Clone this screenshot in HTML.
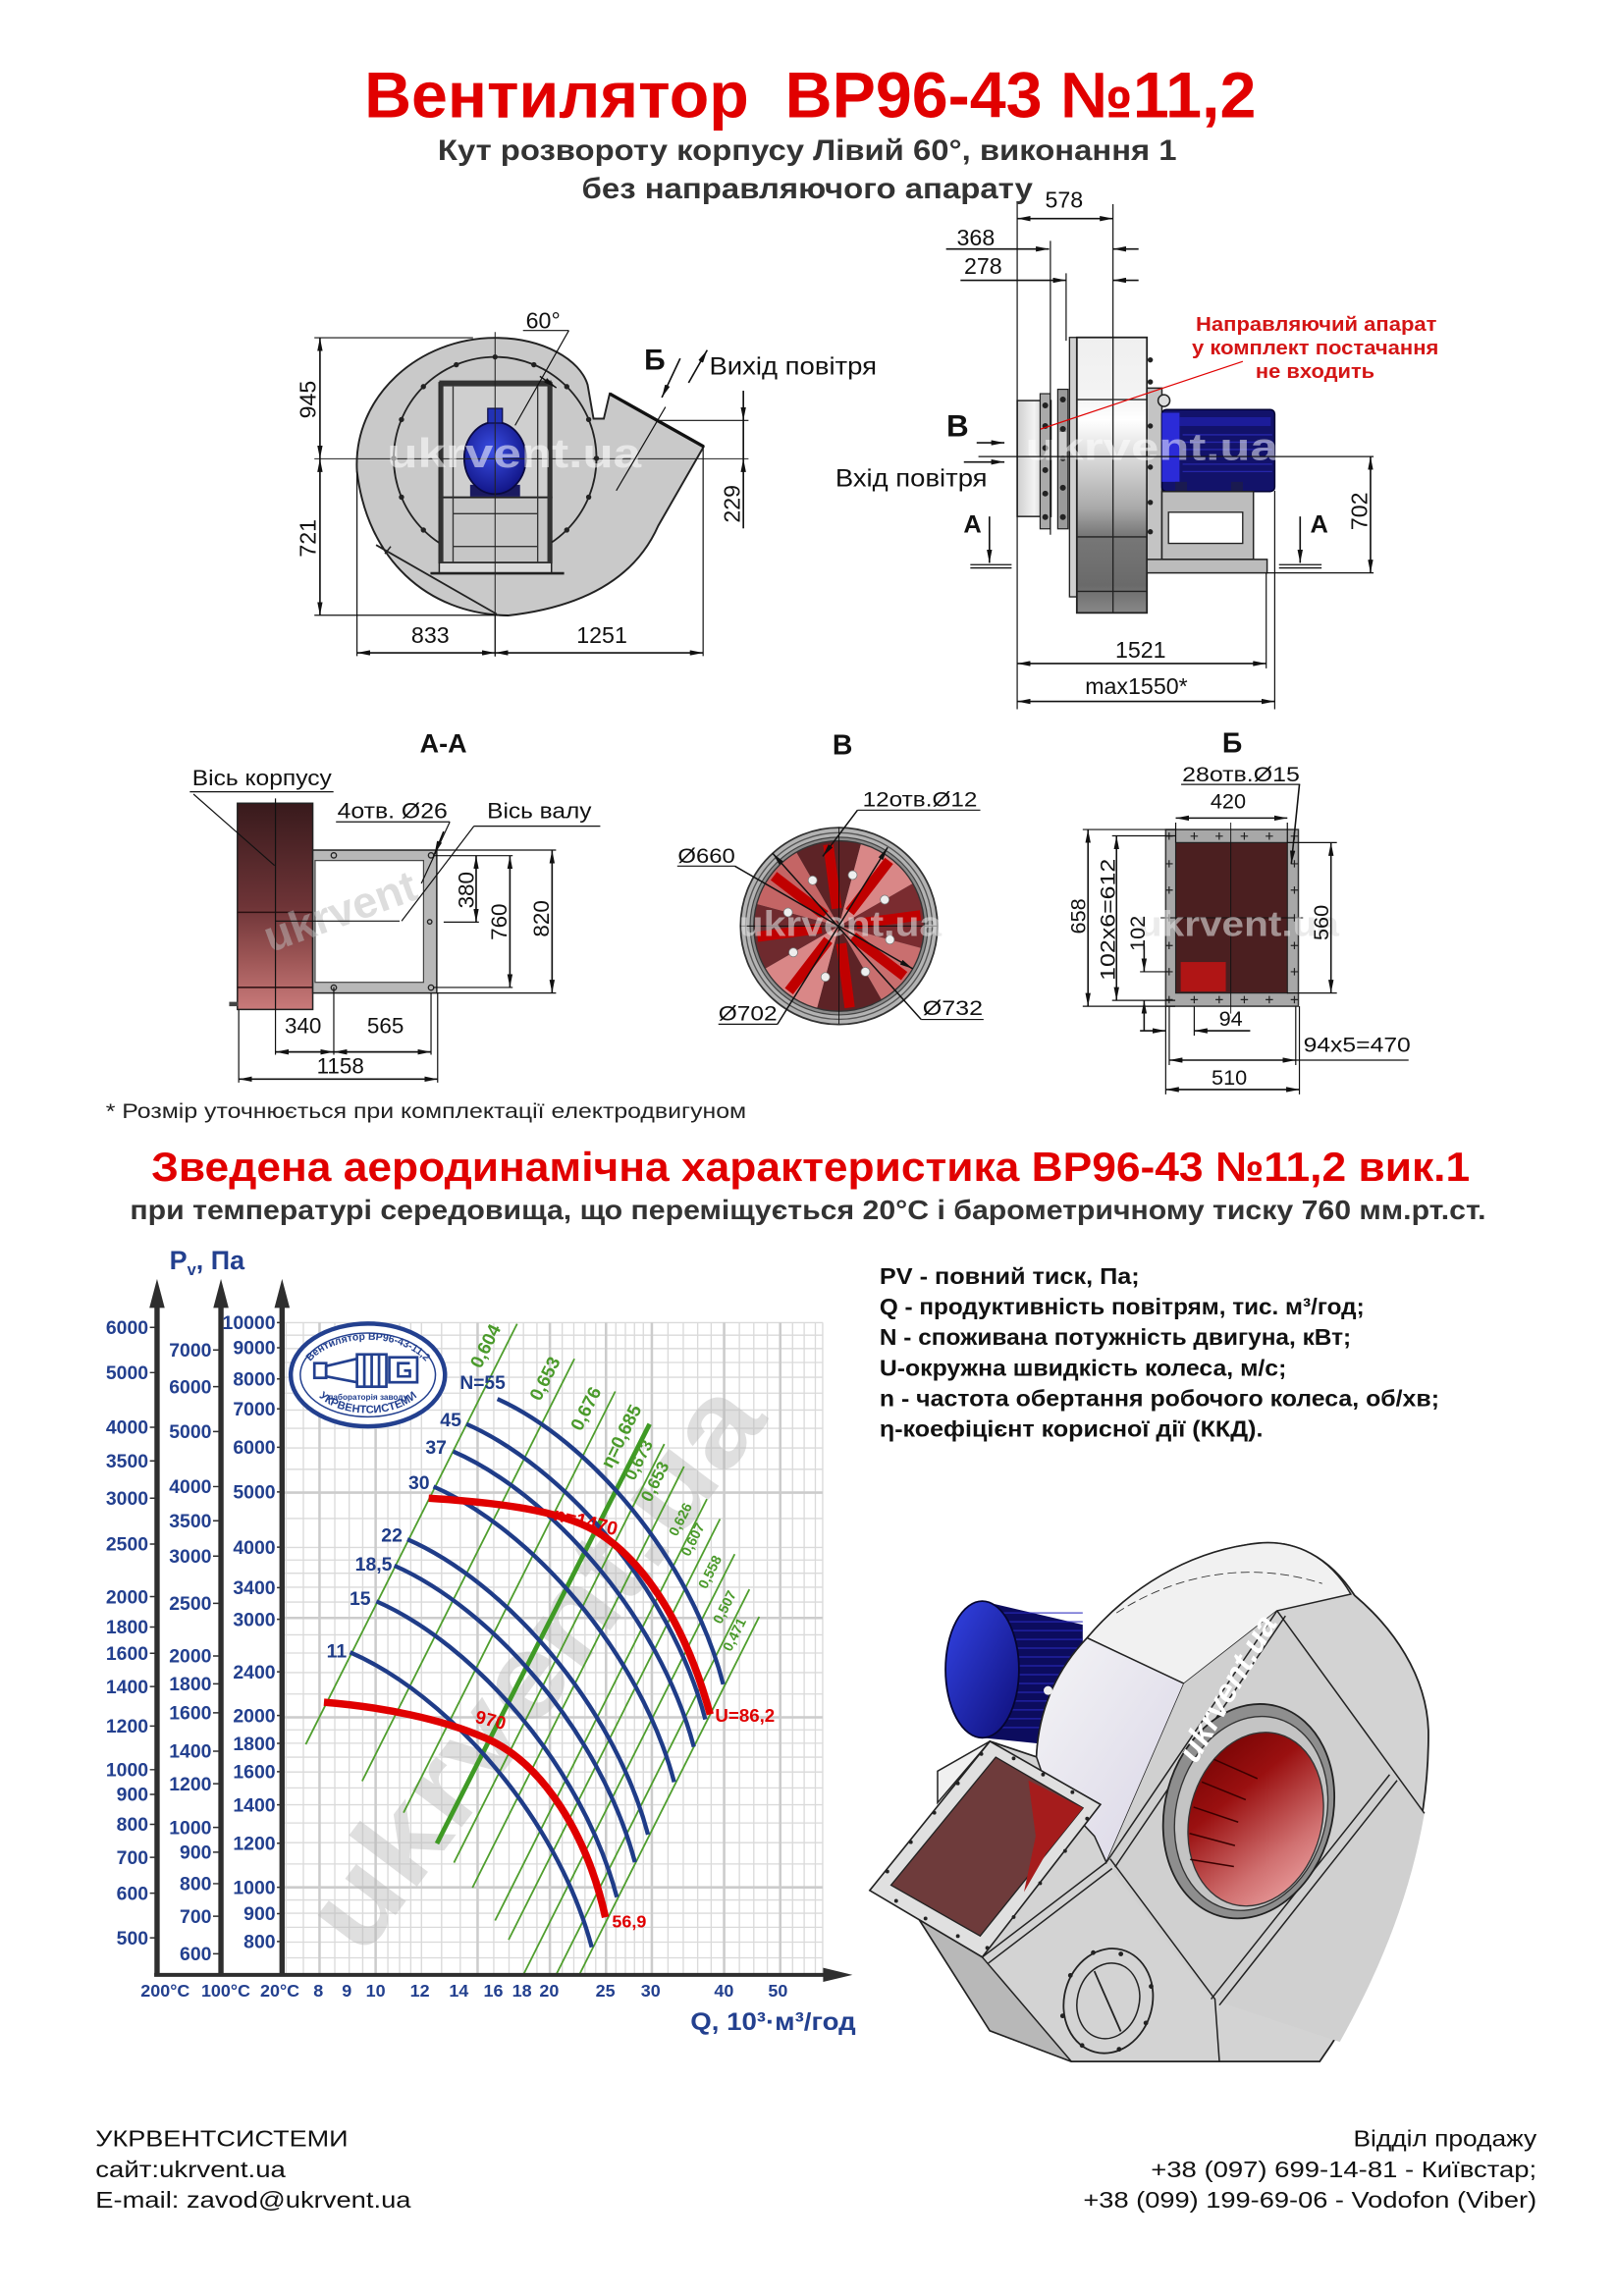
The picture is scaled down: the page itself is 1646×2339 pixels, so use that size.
<!DOCTYPE html>
<html><head><meta charset="utf-8">
<style>
html,body{margin:0;padding:0;background:#fff;}
svg{display:block;}
text{font-family:"Liberation Sans","DejaVu Sans",sans-serif;}
</style></head><body>
<svg xmlns="http://www.w3.org/2000/svg" width="1646" height="2339" viewBox="0 0 1100 1563" preserveAspectRatio="none">
<defs>
<marker id="ar" viewBox="0 0 10 4" refX="10" refY="2" markerWidth="9" markerHeight="3.6" markerUnits="userSpaceOnUse" orient="auto-start-reverse"><path d="M0,0 L10,2 L0,4 Z" fill="#111"/></marker>
<radialGradient id="motG" cx="0.45" cy="0.4" r="0.6"><stop offset="0" stop-color="#3b4fe6"/><stop offset="1" stop-color="#121688"/></radialGradient>
<linearGradient id="houseG" x1="0" y1="0" x2="0" y2="1"><stop offset="0" stop-color="#efefef"/><stop offset="0.22" stop-color="#f4f4f4"/><stop offset="0.3" stop-color="#ffffff"/><stop offset="0.62" stop-color="#a9a9a9"/><stop offset="0.72" stop-color="#777"/><stop offset="0.9" stop-color="#6a6a6a"/><stop offset="1" stop-color="#888"/></linearGradient>
<linearGradient id="inG" x1="0" y1="0" x2="1" y2="0"><stop offset="0" stop-color="#cfcfcf"/><stop offset="0.5" stop-color="#f3f3f3"/><stop offset="1" stop-color="#b5b5b5"/></linearGradient>
<linearGradient id="redG" x1="0" y1="0" x2="0" y2="1"><stop offset="0" stop-color="#381a1c"/><stop offset="0.5" stop-color="#6e3437"/><stop offset="0.75" stop-color="#9c5555"/><stop offset="1" stop-color="#c97a7a"/></linearGradient>
<linearGradient id="inletG" x1="0" y1="0" x2="1" y2="1"><stop offset="0" stop-color="#6b0000"/><stop offset="0.35" stop-color="#9a1010"/><stop offset="0.7" stop-color="#d07070"/><stop offset="1" stop-color="#f4b0b0"/></linearGradient>
<linearGradient id="mcap" x1="0" y1="0" x2="1" y2="1"><stop offset="0" stop-color="#3344e6"/><stop offset="1" stop-color="#0e0e78"/></linearGradient>
<linearGradient id="bandG" x1="0" y1="0" x2="1" y2="1"><stop offset="0" stop-color="#f4f4f6"/><stop offset="1" stop-color="#d9d5e6"/></linearGradient>
<path id="logoTop" d="M206,940 A44.5,28 0 0 1 295,940"/>
<path id="logoBot" d="M211,938 A39.5,24 0 0 0 290,938"/>
</defs>

<!-- ============ TITLES ============ -->
<text x="248" y="80" font-size="44" font-weight="bold" fill="#e10000" textLength="607" lengthAdjust="spacingAndGlyphs">Вентилятор&#160; ВР96-43 №11,2</text>
<text x="298" y="109" font-size="20" font-weight="bold" fill="#333" textLength="503" lengthAdjust="spacingAndGlyphs">Кут розвороту корпусу Лівий 60°, виконання 1</text>
<text x="396" y="135" font-size="20" font-weight="bold" fill="#333" textLength="307" lengthAdjust="spacingAndGlyphs">без направляючого апарату</text>

<!-- ============ TOP-LEFT VIEW ============ -->
<g>
<path d="M415,268 L479,304 L448,358 Q425,410 346,419 C290,418 250,380 243,321 C240,270 285,230 337,230 C370,230 395,245 400,262 L404,285 L411,285 Z" fill="#c9c9c9" stroke="#222" stroke-width="1.3"/>
<line x1="415" y1="268" x2="479" y2="304" stroke="#111" stroke-width="2.2"/>
<line x1="256" y1="371" x2="338" y2="418" stroke="#222" stroke-width="1.2"/>
<line x1="262" y1="377" x2="266" y2="372" stroke="#222" stroke-width="1"/>
<circle cx="337" cy="312" r="69" fill="none" stroke="#222" stroke-width="1.2"/>
<g fill="#222">
<circle cx="406" cy="312" r="1.8"/><circle cx="400.7" cy="338.4" r="1.8"/><circle cx="385.8" cy="360.8" r="1.8"/><circle cx="363.4" cy="375.7" r="1.8"/><circle cx="310.6" cy="375.7" r="1.8"/><circle cx="288.2" cy="360.8" r="1.8"/><circle cx="273.3" cy="338.4" r="1.8"/><circle cx="268" cy="312" r="1.8"/><circle cx="273.3" cy="285.6" r="1.8"/><circle cx="288.2" cy="263.2" r="1.8"/><circle cx="310.6" cy="248.3" r="1.8"/><circle cx="337" cy="243" r="1.8"/><circle cx="363.4" cy="248.3" r="1.8"/><circle cx="385.8" cy="263.2" r="1.8"/><circle cx="400.7" cy="285.6" r="1.8"/>
</g>
<rect x="299" y="260.6" width="76.4" height="78" fill="#cfcfcf" stroke="#222" stroke-width="1.2"/>
<rect x="299" y="338.6" width="76.4" height="44.4" fill="#c6c6c6" stroke="#222" stroke-width="1.2"/>
<rect x="299" y="383" width="76.4" height="7.3" fill="#dadada" stroke="#222" stroke-width="1"/>
<rect x="299" y="259" width="76.4" height="4" fill="#333"/>
<rect x="299" y="260" width="2.8" height="123" fill="#333"/>
<rect x="372.6" y="260" width="2.8" height="123" fill="#333"/>
<path d="M308.4,263 V383 M366,263 V383 M308.4,349.7 H366 M308.4,372 H366" stroke="#333" stroke-width="0.9" fill="none"/>
<line x1="293" y1="390.3" x2="384" y2="390.3" stroke="#222" stroke-width="1.8"/>
<rect x="320" y="330" width="34" height="8" fill="#1a1a60"/>
<ellipse cx="337" cy="311.8" rx="21" ry="24.5" fill="url(#motG)" stroke="#0a0a40" stroke-width="1.2"/>
<rect x="332" y="278" width="10" height="10" fill="#2232b5" stroke="#0a0a40" stroke-width="0.8"/>
<path d="M337,226 V447 M214,312.3 H509.5" stroke="#222" stroke-width="0.7"/>
<text x="350" y="318" font-size="28" font-weight="bold" text-anchor="middle" fill="#fff" fill-opacity="0.55" textLength="173" lengthAdjust="spacingAndGlyphs">ukrvent.ua</text>
<path d="M214,229.9 H322 M214,418.8 H346 M243,321 V446.6 M337,418.8 V446.6 M478.6,304 V446.6 M447.6,286.2 H509.5 M356,225 H387.2 M387.2,225 L350.6,289.6 M453,277 L419.5,334" stroke="#111" stroke-width="0.8" fill="none"/>
<line x1="367.5" y1="256.2" x2="378.7" y2="264" stroke="#111" stroke-width="1" marker-end="url(#ar)"/>
<g stroke="#111" stroke-width="1.1" fill="none">
<path d="M217.8,229.9 V312.3" marker-start="url(#ar)" marker-end="url(#ar)"/>
<path d="M217.8,312.3 V418.8" marker-start="url(#ar)" marker-end="url(#ar)"/>
<path d="M243,444.4 H337" marker-start="url(#ar)" marker-end="url(#ar)"/>
<path d="M337,444.4 H478.6" marker-start="url(#ar)" marker-end="url(#ar)"/>
<path d="M506,266 V286.2" marker-end="url(#ar)"/>
<path d="M506,359.7 V312.3" marker-end="url(#ar)"/>
<path d="M506,286.2 V312.3"/>
<path d="M463,244 L450.5,270.6" marker-end="url(#ar)"/>
<path d="M468.7,260.6 L481.4,238.3" marker-end="url(#ar)"/>
</g>
<g font-size="15.5" fill="#111">
<text transform="translate(215,272) rotate(-90)" text-anchor="middle">945</text>
<text transform="translate(215,366.4) rotate(-90)" text-anchor="middle">721</text>
<text transform="translate(503.5,343) rotate(-90)" text-anchor="middle">229</text>
<text x="292.9" y="437.7" text-anchor="middle">833</text>
<text x="409.7" y="437.7" text-anchor="middle">1251</text>
<text x="369.7" y="223.5" text-anchor="middle">60°</text>
<text x="482.8" y="255" font-size="16.5" textLength="114" lengthAdjust="spacingAndGlyphs">Вихід повітря</text>
</g>
<text x="445.7" y="251.7" font-size="20" font-weight="bold" text-anchor="middle" fill="#111">Б</text>
</g>

<!-- ============ TOP-RIGHT VIEW ============ -->
<g>
<rect x="692.4" y="272.7" width="23" height="78.9" fill="url(#inG)" stroke="#222" stroke-width="1"/>
<rect x="708" y="268" width="7" height="92" fill="#aaa" stroke="#222" stroke-width="0.8"/>
<rect x="720" y="265" width="7" height="95" fill="#9a9a9a" stroke="#222" stroke-width="0.8"/>
<g fill="#222"><circle cx="711.5" cy="276" r="2"/><circle cx="711.5" cy="290" r="2"/><circle cx="711.5" cy="305" r="2"/><circle cx="711.5" cy="320" r="2"/><circle cx="711.5" cy="336" r="2"/><circle cx="711.5" cy="352" r="2"/>
<circle cx="723.5" cy="272" r="2"/><circle cx="723.5" cy="292" r="2"/><circle cx="723.5" cy="312" r="2"/><circle cx="723.5" cy="332" r="2"/><circle cx="723.5" cy="352" r="2"/></g>
<rect x="728" y="229.7" width="5" height="176.6" fill="#d0d0d0" stroke="#222" stroke-width="0.9"/>
<rect x="733" y="229.7" width="47.7" height="187.5" fill="url(#houseG)" stroke="#222" stroke-width="1.2"/>
<path d="M733,272 H780.7 M733,365.5 H780.7 M733,402.6 H780.7 M757.6,229.7 V417.2" stroke="#222" stroke-width="0.9"/>
<rect x="780.7" y="264.2" width="10.2" height="119" fill="#c4c4c4" stroke="#222" stroke-width="1"/>
<g fill="#222"><circle cx="783" cy="245" r="1.8"/><circle cx="783" cy="260" r="1.8"/><circle cx="783" cy="290" r="1.8"/><circle cx="783" cy="318" r="1.8"/><circle cx="783" cy="342" r="1.8"/><circle cx="783" cy="362" r="1.8"/></g>
<circle cx="792.3" cy="272.7" r="4" fill="#ddd" stroke="#222" stroke-width="1"/>
<rect x="790.9" y="278.8" width="76.8" height="55.8" rx="3" fill="#12126a" stroke="#000030" stroke-width="1"/>
<rect x="790.9" y="281" width="12" height="47" fill="#2b2bd8"/>
<rect x="803" y="284" width="62" height="6" fill="#1c1c9a"/>
<path d="M805,296 H866 M805,301 H866 M805,306 H866 M805,311 H866 M805,316 H866 M805,321 H866" stroke="#2626aa" stroke-width="0.9"/>
<rect x="800" y="328" width="8" height="7" fill="#1a1a50"/><rect x="838" y="328" width="8" height="7" fill="#1a1a50"/>
<rect x="790.9" y="334.6" width="62.3" height="46.2" fill="#bdbdbd" stroke="#222" stroke-width="1"/>
<rect x="795.4" y="348.7" width="50.5" height="21.2" fill="#fff" stroke="#222" stroke-width="0.9"/>
<rect x="780.7" y="380.8" width="81.8" height="9.2" fill="#bcbcbc" stroke="#222" stroke-width="1"/>
<text x="784" y="313" font-size="26" font-weight="bold" text-anchor="middle" fill="#fff" fill-opacity="0.5" textLength="172" lengthAdjust="spacingAndGlyphs">ukrvent.ua</text>
<path d="M692.4,139 V482.8 M757.6,139 V229.7 M715,164 V364 M725.7,186 V232 M666,310.8 H935 M862.5,390 H935 M861.9,390 V455 M867.7,334 V482.8" stroke="#111" stroke-width="0.8" fill="none"/>
<path d="M660.5,384.4 H688.6 M660.5,386.6 H688.6 M870.6,384.4 H899.6 M870.6,386.6 H899.6" stroke="#111" stroke-width="0.9"/>
<g stroke="#111" stroke-width="1.1" fill="none">
<path d="M692.4,148.8 H757.6" marker-start="url(#ar)" marker-end="url(#ar)"/>
<path d="M644,169.5 H714.1" marker-end="url(#ar)"/>
<path d="M775,169.5 H757.6" marker-end="url(#ar)"/>
<path d="M653.8,190.8 H725.7" marker-end="url(#ar)"/>
<path d="M775,190.8 H757.6" marker-end="url(#ar)"/>
<path d="M932.9,310.8 V390" marker-start="url(#ar)" marker-end="url(#ar)"/>
<path d="M692.4,451.7 H861.9" marker-start="url(#ar)" marker-end="url(#ar)"/>
<path d="M692.4,477.5 H867.7" marker-start="url(#ar)" marker-end="url(#ar)"/>
<path d="M664.8,301.4 H683.7" marker-end="url(#ar)"/>
<path d="M656.1,314.5 H683.7" marker-end="url(#ar)"/>
<path d="M673.5,351.6 V383.2" marker-end="url(#ar)"/>
<path d="M885,351.6 V383.2" marker-end="url(#ar)"/>
</g>
<line x1="846" y1="246" x2="708.3" y2="292.1" stroke="#e00000" stroke-width="0.8"/>
<g font-size="15.5" fill="#111" text-anchor="middle">
<text x="724.3" y="141.5">578</text>
<text x="664.2" y="167">368</text>
<text x="669.2" y="186.5">278</text>
<text x="776.4" y="447.6">1521</text>
<text x="773.5" y="472.6">max1550*</text>
<text transform="translate(930.5,348) rotate(-90)">702</text>
</g>
<text x="568.6" y="331" font-size="16.5" fill="#111" textLength="103.4" lengthAdjust="spacingAndGlyphs">Вхід повітря</text>
<text x="651.8" y="297" font-size="21" font-weight="bold" text-anchor="middle" fill="#111">В</text>
<text x="662" y="362.6" font-size="17" font-weight="bold" text-anchor="middle" fill="#111">А</text>
<text x="898" y="362.6" font-size="17" font-weight="bold" text-anchor="middle" fill="#111">А</text>
<g font-size="13.5" font-weight="bold" fill="#d41515" text-anchor="middle">
<text x="896" y="225.3" textLength="164" lengthAdjust="spacingAndGlyphs">Направляючий апарат</text>
<text x="895.3" y="241.1" textLength="168" lengthAdjust="spacingAndGlyphs">у комплект постачання</text>
<text x="895.2" y="257.4" textLength="81" lengthAdjust="spacingAndGlyphs">не входить</text>
</g>
</g>

<!-- ============ SECTION A-A ============ -->
<g>
<text x="301.8" y="512.3" font-size="18" font-weight="bold" text-anchor="middle" fill="#111">А-А</text>
<rect x="161.6" y="546.8" width="51.3" height="140.4" fill="url(#redG)" stroke="#222" stroke-width="1"/>
<path d="M161.6,621 H212.9 M161.6,672.2 H212.9" stroke="#2a0f10" stroke-width="1"/>
<rect x="156" y="682" width="6" height="3" fill="#444"/>
<rect x="212.9" y="578.7" width="84.4" height="97.3" fill="#b8b8b8" stroke="#222" stroke-width="1"/>
<rect x="214.5" y="585.8" width="73.8" height="82.9" fill="#fff" stroke="#444" stroke-width="0.8"/>
<g fill="none" stroke="#222" stroke-width="0.9"><circle cx="227.2" cy="582.3" r="1.8"/><circle cx="293.4" cy="582.3" r="1.8"/><circle cx="227.2" cy="672.3" r="1.8"/><circle cx="293.4" cy="672.3" r="1.8"/><circle cx="292.5" cy="627.5" r="1.5"/></g>
<text transform="translate(235,630) rotate(-20)" font-size="30" font-weight="bold" text-anchor="middle" fill="#bbb" fill-opacity="0.5">ukrvent</text>
<path d="M187.5,543.5 V718 M131.7,540.6 L186.9,589.2 M129.2,539 H227 M228.7,559.5 H306.2 M322.6,562.4 H408.6 M322.6,562.4 L273.4,627 M306.2,559.5 L286.8,601.4 M187.5,627 H272" stroke="#111" stroke-width="0.8" fill="none"/>
<path d="M297.3,578.7 H378.5 M295,582.5 H349 M302,627.7 H326 M295,672.2 H349 M297.3,676 H378.5 M162.5,687 V737 M227.2,672 V718 M293.4,676 V718 M297.9,676 V737" stroke="#111" stroke-width="0.8" fill="none"/>
<g stroke="#111" stroke-width="1.1" fill="none">
<path d="M302,566 L295.8,581.4" marker-end="url(#ar)"/>
<path d="M324.1,582.5 V627.7" marker-start="url(#ar)" marker-end="url(#ar)"/>
<path d="M347.1,582.5 V672.2" marker-start="url(#ar)" marker-end="url(#ar)"/>
<path d="M375.8,578.7 V676" marker-start="url(#ar)" marker-end="url(#ar)"/>
<path d="M187.5,716.1 H227.2" marker-start="url(#ar)" marker-end="url(#ar)"/>
<path d="M227.2,716.1 H293.4" marker-start="url(#ar)" marker-end="url(#ar)"/>
<path d="M162.5,734.6 H297.9" marker-start="url(#ar)" marker-end="url(#ar)"/>
</g>
<g font-size="15" fill="#111">
<text x="130.8" y="534.6" textLength="95" lengthAdjust="spacingAndGlyphs">Вісь корпусу</text>
<text x="229.6" y="557" textLength="75" lengthAdjust="spacingAndGlyphs">4отв. Ø26</text>
<text x="331.6" y="557" textLength="71" lengthAdjust="spacingAndGlyphs">Вісь валу</text>
<text transform="translate(322.3,605.9) rotate(-90)" text-anchor="middle">380</text>
<text transform="translate(345,627.6) rotate(-90)" text-anchor="middle">760</text>
<text transform="translate(373.5,625.4) rotate(-90)" text-anchor="middle">820</text>
<text x="206.3" y="703.4" text-anchor="middle">340</text>
<text x="262.4" y="703.4" text-anchor="middle">565</text>
<text x="231.7" y="730.6" text-anchor="middle">1158</text>
</g>
<text x="72" y="761" font-size="14" fill="#222" textLength="436" lengthAdjust="spacingAndGlyphs">* Розмір уточнюється при комплектації електродвигуном</text>
</g>

<!-- ============ SECTION B ============ -->
<g>
<text x="573.5" y="513.4" font-size="19" font-weight="bold" text-anchor="middle" fill="#111">В</text>
<circle cx="571.1" cy="630.4" r="67" fill="#b3b3b3" stroke="#333" stroke-width="1.2"/>
<circle cx="571.1" cy="630.4" r="63.5" fill="none" stroke="#555" stroke-width="0.9"/>
<circle cx="571.1" cy="630.4" r="60.5" fill="#8c8c8c" stroke="#444" stroke-width="0.8"/>
<g transform="rotate(15 571.1 630.4)">
<path d="M571.1,630.4 L629.1,630.4 A58,58 0 0 1 612.1,671.4 Z" fill="#c96f6f"/>
<path d="M571.1,630.4 L612.1,671.4 A58,58 0 0 1 571.1,688.4 Z" fill="#5d2326"/>
<path d="M571.1,630.4 L571.1,688.4 A58,58 0 0 1 530.1,671.4 Z" fill="#d98787"/>
<path d="M571.1,630.4 L530.1,671.4 A58,58 0 0 1 513.1,630.4 Z" fill="#6e2a2e"/>
<path d="M571.1,630.4 L513.1,630.4 A58,58 0 0 1 530.1,589.4 Z" fill="#c46565"/>
<path d="M571.1,630.4 L530.1,589.4 A58,58 0 0 1 571.1,572.4 Z" fill="#5d2326"/>
<path d="M571.1,630.4 L571.1,572.4 A58,58 0 0 1 612.1,589.4 Z" fill="#d98787"/>
<path d="M571.1,630.4 L612.1,589.4 A58,58 0 0 1 629.1,630.4 Z" fill="#7a2c30"/>
<g stroke="#c00000" stroke-width="7">
<line x1="582.2" y1="635" x2="622.8" y2="651.8"/><line x1="575.7" y1="641.5" x2="592.5" y2="682.1"/><line x1="566.5" y1="641.5" x2="549.7" y2="682.1"/><line x1="560" y1="635" x2="519.4" y2="651.8"/><line x1="560" y1="625.8" x2="519.4" y2="609"/><line x1="566.5" y1="619.3" x2="549.7" y2="578.7"/><line x1="575.7" y1="619.3" x2="592.5" y2="578.7"/><line x1="582.2" y1="625.8" x2="622.8" y2="609"/>
</g>
<g fill="#eee" stroke="#777" stroke-width="0.5"><circle cx="607" cy="630.4" r="3"/><circle cx="571.1" cy="666.3" r="3"/><circle cx="535.2" cy="630.4" r="3"/><circle cx="571.1" cy="594.5" r="3"/><circle cx="596.5" cy="655.8" r="3"/><circle cx="545.7" cy="655.8" r="3"/><circle cx="545.7" cy="605" r="3"/><circle cx="596.5" cy="605" r="3"/></g>
</g>
<circle cx="571.1" cy="630.4" r="58" fill="none" stroke="#333" stroke-width="0.9"/>
<path d="M504,630.4 H638 M571.1,563 V697" stroke="#111" stroke-width="0.6"/>
<text x="572" y="637" font-size="24" font-weight="bold" text-anchor="middle" fill="#ddd" fill-opacity="0.6" textLength="138" lengthAdjust="spacingAndGlyphs">ukrvent.ua</text>
<path d="M583.7,551.5 H667.3 M461,589.6 H500.2 M489,697.2 H529.2 M627,694 H669.5" stroke="#111" stroke-width="0.8"/>
<g stroke="#111" stroke-width="1" fill="none">
<path d="M583.7,551.5 L560,583" marker-end="url(#ar)"/>
<path d="M500.2,589.6 L621.3,659.5" marker-end="url(#ar)"/>
<path d="M529.2,697.2 L604.2,576.9" marker-end="url(#ar)"/>
<path d="M627,694 L525.9,580.9" marker-end="url(#ar)"/>
</g>
<g font-size="14.5" fill="#111">
<text x="587.2" y="549" textLength="78" lengthAdjust="spacingAndGlyphs">12отв.Ø12</text>
<text x="461.4" y="587.5" textLength="39" lengthAdjust="spacingAndGlyphs">Ø660</text>
<text x="489" y="694.5" textLength="40" lengthAdjust="spacingAndGlyphs">Ø702</text>
<text x="628" y="691" textLength="41" lengthAdjust="spacingAndGlyphs">Ø732</text>
</g>
</g>

<!-- ============ SECTION Б ============ -->
<g>
<text x="838.8" y="512.3" font-size="19" font-weight="bold" text-anchor="middle" fill="#111">Б</text>
<rect x="793.5" y="564.7" width="90.3" height="120.3" fill="#a8a8a8" stroke="#333" stroke-width="1"/>
<rect x="800.3" y="573.6" width="76" height="102.4" fill="#4b1f20" stroke="#222" stroke-width="0.8"/>
<rect x="803.7" y="654.9" width="30.7" height="20" fill="#b01515"/>
<path d="M837.8,560 V690 M790,624.8 H887" stroke="#111" stroke-width="0.6"/>
<g stroke="#222" stroke-width="0.8">
<path d="M793.3,569.2h5M795.8,566.7v5 M810.4,569.2h5M812.9,566.7v5 M827.4,569.2h5M829.9,566.7v5 M844.5,569.2h5M847,566.7v5 M861.5,569.2h5M864,566.7v5 M878.6,569.2h5M881.1,566.7v5"/>
<path d="M793.3,680.5h5M795.8,678v5 M810.4,680.5h5M812.9,678v5 M827.4,680.5h5M829.9,678v5 M844.5,680.5h5M847,678v5 M861.5,680.5h5M864,678v5 M878.6,680.5h5M881.1,678v5"/>
<path d="M793.3,588h5M795.8,585.5v5 M793.3,605.9h5M795.8,603.4v5 M793.3,624.8h5M795.8,622.3v5 M793.3,643.7h5M795.8,641.2v5 M793.3,661.5h5M795.8,659v5"/>
<path d="M878.6,588h5M881.1,585.5v5 M878.6,605.9h5M881.1,603.4v5 M878.6,624.8h5M881.1,622.3v5 M878.6,643.7h5M881.1,641.2v5 M878.6,661.5h5M881.1,659v5"/>
</g>
<text x="843" y="637" font-size="24" font-weight="bold" text-anchor="middle" fill="#ddd" fill-opacity="0.6" textLength="137" lengthAdjust="spacingAndGlyphs">ukrvent.ua</text>
<path d="M804,534 H885 M737,564.7 H800 M737,685 H800 M757,569 H800 M757,681 H800 M876,573.6 H910 M876,676 H910 M776,661.5 H795 M793.5,685 V745 M884.5,685 V745 M812.9,685 V705 M882,685 V725 M795.9,685 V725 M882,721.7 H958.8 M800.3,560 V573.6 M876.3,560 V573.6" stroke="#111" stroke-width="0.8" fill="none"/>
<g stroke="#111" stroke-width="1.05" fill="none">
<path d="M884.5,534 L879,588" marker-end="url(#ar)"/>
<path d="M800.3,556.9 H876.3" marker-start="url(#ar)" marker-end="url(#ar)"/>
<path d="M740.6,564.7 V685" marker-start="url(#ar)" marker-end="url(#ar)"/>
<path d="M760,569 V681" marker-start="url(#ar)" marker-end="url(#ar)"/>
<path d="M778.8,643.7 V661.5" marker-end="url(#ar)"/>
<path d="M778.8,701.7 V681" marker-end="url(#ar)"/>
<path d="M906,573.6 V676" marker-start="url(#ar)" marker-end="url(#ar)"/>
<path d="M776,701.7 H793.5" marker-end="url(#ar)"/>
<path d="M851,701.7 H812.9" marker-end="url(#ar)"/>
<path d="M795.9,721.7 H882" marker-start="url(#ar)" marker-end="url(#ar)"/>
<path d="M793.5,741.7 H884.5" marker-start="url(#ar)" marker-end="url(#ar)"/>
</g>
<g font-size="14.5" fill="#111">
<text x="804.7" y="532" textLength="80" lengthAdjust="spacingAndGlyphs">28отв.Ø15</text>
<text x="836" y="550.2" text-anchor="middle">420</text>
<text transform="translate(738.8,623.7) rotate(-90)" text-anchor="middle">658</text>
<text transform="translate(759,626) rotate(-90)" text-anchor="middle" textLength="83" lengthAdjust="spacingAndGlyphs">102x6=612</text>
<text transform="translate(779.3,635.4) rotate(-90)" text-anchor="middle">102</text>
<text transform="translate(904.3,628.1) rotate(-90)" text-anchor="middle">560</text>
<text x="837.8" y="698.3" text-anchor="middle">94</text>
<text x="887.2" y="716.1" textLength="73" lengthAdjust="spacingAndGlyphs">94x5=470</text>
<text x="836.8" y="738.4" text-anchor="middle">510</text>
</g>
</g>

<!-- ============ CHART TITLE ============ -->
<text x="103" y="804" font-size="28" font-weight="bold" fill="#e10000" textLength="897.5" lengthAdjust="spacingAndGlyphs">Зведена аеродинамічна характеристика ВР96-43 №11,2 вик.1</text>
<text x="88.5" y="830" font-size="18.5" font-weight="bold" fill="#333" textLength="923" lengthAdjust="spacingAndGlyphs">при температурі середовища, що переміщується 20°С і барометричному тиску 760 мм.рт.ст.</text>

<!-- ============ CHART ============ -->
<g>
<path d="M194.7,900.4V1344.4M206.5,900.4V1344.4M227.9,900.4V1344.4M237.7,900.4V1344.4M246.9,900.4V1344.4M264,900.4V1344.4M272,900.4V1344.4M279.6,900.4V1344.4M286.9,900.4V1344.4M300.6,900.4V1344.4M313.3,900.4V1344.4M336.1,900.4V1344.4M346.5,900.4V1344.4M356.3,900.4V1344.4M365.5,900.4V1344.4M382.7,900.4V1344.4M390.6,900.4V1344.4M398.2,900.4V1344.4M405.5,900.4V1344.4M419.2,900.4V1344.4M425.7,900.4V1344.4M431.9,900.4V1344.4M437.9,900.4V1344.4M454.7,900.4V1344.4M465.1,900.4V1344.4M474.9,900.4V1344.4M484.1,900.4V1344.4M503.3,900.4V1344.4M513.1,900.4V1344.4M522.3,900.4V1344.4M539.5,900.4V1344.4M547.4,900.4V1344.4M555,900.4V1344.4M560,900.4V1344.4
M192,1332.8H560M192,1322.1H560M192,1312H560M192,1302.4H560M192,1293.4H560M192,1268.9H560M192,1254.4H560M192,1241H560M192,1228.6H560M192,1217.1H560M192,1206.3H560M192,1196.2H560M192,1186.7H560M192,1177.6H560M192,1153.2H560M192,1138.6H560M192,1125.3H560M192,1112.9H560M192,1090.6H560M192,1080.5H560M192,1071H560M192,1062H560M192,1053.4H560M192,1033.7H560M192,1000.2H560M192,985.7H560M192,972.3H560M192,959.9H560M192,948.4H560M192,937.6H560M192,927.5H560M192,918H560M192,908.9H560M192,900.4H560" stroke="#dadada" stroke-width="0.9" fill="none"/>
<path d="M217.5,900.4V1344.4M255.7,900.4V1344.4M325.1,900.4V1344.4M374.3,900.4V1344.4M412.5,900.4V1344.4M443.7,900.4V1344.4M492.9,900.4V1344.4M531.1,900.4V1344.4M192,1284.8H560M192,1169.1H560M192,1101.4H560M192,1016.1H560" stroke="#cccccc" stroke-width="1.7" fill="none"/>
<text transform="translate(385,1150) rotate(-53)" font-size="80" font-weight="bold" text-anchor="middle" fill="#b8b8b8" fill-opacity="0.45" textLength="460" lengthAdjust="spacingAndGlyphs">ukrvent.ua</text>
<g stroke="#4f9e2d" stroke-width="1.2">
<line x1="208.1" y1="1187.5" x2="352" y2="901.2"/>
<line x1="246.5" y1="1212.5" x2="391" y2="925"/>
<line x1="274.7" y1="1234" x2="418.8" y2="947.2"/>
<line x1="309" y1="1268" x2="452.2" y2="983"/>
<line x1="321.6" y1="1285" x2="465.6" y2="998.3"/>
<line x1="337" y1="1307.4" x2="481.2" y2="1020.5"/>
<line x1="346.2" y1="1320.5" x2="490.1" y2="1034.1"/>
<line x1="356.2" y1="1344.4" x2="500.1" y2="1058"/>
<line x1="378.5" y1="1344.4" x2="510.1" y2="1081.9"/>
<line x1="394.3" y1="1344.4" x2="516.8" y2="1100.6"/>
</g>
<line x1="297.4" y1="1255" x2="442.2" y2="969.4" stroke="#3f9a25" stroke-width="3.2"/>
<g font-weight="bold" fill="#4a9a2a" text-anchor="middle">
<text transform="translate(334.2,918.2) rotate(-63.3)" font-size="12.5">0,604</text>
<text transform="translate(374.7,940.4) rotate(-63.3)" font-size="12.5">0,653</text>
<text transform="translate(402.6,960.8) rotate(-63.3)" font-size="12.5">0,676</text>
<text transform="translate(426.6,979.6) rotate(-63.3)" font-size="12.5">η=0,685</text>
<text transform="translate(438.2,995.6) rotate(-63.3)" font-size="11.5">0,673</text>
<text transform="translate(449.3,1010.3) rotate(-63.3)" font-size="11.5">0,653</text>
<text transform="translate(466,1035.8) rotate(-63.3)" font-size="9.5">0,626</text>
<text transform="translate(474.5,1049.5) rotate(-63.3)" font-size="9.5">0,607</text>
<text transform="translate(486.1,1071.6) rotate(-63.3)" font-size="9.5">0,558</text>
<text transform="translate(496.1,1095.5) rotate(-63.3)" font-size="9.5">0,507</text>
<text transform="translate(502.8,1114.2) rotate(-63.3)" font-size="9.5">0,471</text>
</g>
<g stroke="#1f3c88" stroke-width="2.9" fill="none">
<path d="M338.6,952.3 C400.1,980 470,1059.9 492.3,1146.6"/>
<path d="M317.5,969.4 C382.5,998.1 456.5,1080.8 480.1,1170.5"/>
<path d="M308.5,988.1 C374,1016.8 448.5,1099.5 472.3,1189.2"/>
<path d="M295.1,1012 C360.6,1040.7 435.1,1123.4 458.9,1213.1"/>
<path d="M277.3,1047.9 C342.8,1076.5 417.3,1159.3 441.1,1248.9"/>
<path d="M268.4,1065.8 C333.9,1094.6 408.4,1177.7 432.2,1267.7"/>
<path d="M256.2,1090.1 C321.7,1118.8 396.2,1201.7 419.9,1291.5"/>
<path d="M238.3,1124.8 C304.1,1153.4 378.9,1236 402.8,1325.6"/>
</g>
<g stroke="#e00000" stroke-width="5" fill="none">
<path d="M291.8,1019.9 C340,1023 380,1028 405,1042 C435,1060 465,1100 483.4,1167.1"/>
<path d="M220.5,1158.8 C260,1162 300,1170 330,1183 C370,1200 400,1250 412.1,1305.2"/>
</g>
<g font-weight="bold" fill="#e00000">
<text transform="translate(397.6,1040) rotate(14)" font-size="13" text-anchor="middle">n=1470</text>
<text x="486.8" y="1172.2" font-size="12.5">U=86,2</text>
<text transform="translate(333,1175) rotate(14)" font-size="12.5" text-anchor="middle">970</text>
<text x="416.6" y="1312" font-size="12">56,9</text>
</g>
<g font-size="13" font-weight="bold" fill="#1f3c88">
<text x="313" y="945.5" textLength="31" lengthAdjust="spacingAndGlyphs">N=55</text>
<text x="299.6" y="971">45</text>
<text x="289.6" y="989.8">37</text>
<text x="278" y="1013.8">30</text>
<text x="259.5" y="1049.6">22</text>
<text x="241.7" y="1069.3">18,5</text>
<text x="237.9" y="1092.6">15</text>
<text x="222.3" y="1128.4">11</text>
</g>
<ellipse cx="250.4" cy="936" rx="52.5" ry="35" fill="#fff" stroke="#23408f" stroke-width="3"/>
<ellipse cx="250.4" cy="936" rx="46" ry="28.5" fill="none" stroke="#23408f" stroke-width="1"/>
<text font-size="7" font-weight="bold" fill="#23408f"><textPath href="#logoTop" startOffset="50%" text-anchor="middle">Вентилятор ВР96-43-11,2</textPath></text>
<text font-size="7.5" font-weight="bold" fill="#23408f"><textPath href="#logoBot" startOffset="50%" text-anchor="middle">УКРВЕНТСИСТЕМИ</textPath></text>
<text x="250.4" y="953" font-size="5.5" font-weight="bold" fill="#23408f" text-anchor="middle">лабораторія заводу</text>
<g stroke="#23408f" fill="none" stroke-width="1.8">
<rect x="243" y="922" width="20" height="22"/>
<path d="M248,922 V944 M253,922 V944 M258,922 V944"/>
<path d="M222,930 L243,925 M222,937 L243,941 M222,930 V937"/>
<rect x="214" y="928" width="8" height="10"/>
<rect x="265" y="924" width="19" height="17"/>
<path d="M279,928 H271 V937 H279 V933 H275"/>
</g>
<g stroke="#2e2e2e" stroke-width="3.6">
<line x1="106.9" y1="888" x2="106.9" y2="1345.5"/>
<line x1="150.4" y1="888" x2="150.4" y2="1345.5"/>
<line x1="192" y1="888" x2="192" y2="1345.5"/>
</g>
<line x1="105" y1="1344.4" x2="562" y2="1344.4" stroke="#2e2e2e" stroke-width="2.6"/>
<g fill="#2e2e2e">
<polygon points="106.9,870.6 101.7,890.3 112.1,890.3"/>
<polygon points="150.4,870.6 145.2,890.3 155.6,890.3"/>
<polygon points="192,870.6 186.8,890.3 197.2,890.3"/>
<polygon points="580.3,1344.4 560.3,1339.6 560.3,1349.2"/>
</g>
<path d="M102,903.6h5M102,934.4h5M102,971.6h5M102,994.5h5M102,1019.9h5M102,1051.1h5M102,1086.9h5M102,1107.6h5M102,1125.5h5M102,1148.1h5M102,1175h5M102,1204.7h5M102,1221.5h5M102,1241.9h5M102,1264.4h5M102,1288.8h5M102,1319.2h5
M145,919h5M145,944h5M145,974.5h5M145,1012h5M145,1035.3h5M145,1059.3h5M145,1091.5h5M145,1127.3h5M145,1146.3h5M145,1166h5M145,1192.1h5M145,1214.3h5M145,1244h5M145,1260.9h5M145,1282.3h5M145,1304.5h5M145,1330h5
M188.5,900.4h4M188.5,917.5h4M188.5,938.7h4M188.5,959.1h4M188.5,985.2h4M188.5,1015.6h4M188.5,1053.2h4M188.5,1080.8h4M188.5,1102.3h4M188.5,1138.1h4M188.5,1167.8h4M188.5,1186.8h4M188.5,1206.1h4M188.5,1228.6h4M188.5,1254.8h4M188.5,1284.8h4M188.5,1302.7h4M188.5,1321.7h4" stroke="#2e2e2e" stroke-width="1"/>
<g font-size="13" font-weight="bold" fill="#23408f" text-anchor="end">
<text x="101" y="908.1">6000</text><text x="101" y="938.9">5000</text><text x="101" y="976.1">4000</text><text x="101" y="999">3500</text><text x="101" y="1024.4">3000</text><text x="101" y="1055.6">2500</text><text x="101" y="1091.4">2000</text><text x="101" y="1112.1">1800</text><text x="101" y="1130">1600</text><text x="101" y="1152.6">1400</text><text x="101" y="1179.5">1200</text><text x="101" y="1209.2">1000</text><text x="101" y="1226">900</text><text x="101" y="1246.4">800</text><text x="101" y="1268.9">700</text><text x="101" y="1293.3">600</text><text x="101" y="1323.7">500</text>
<text x="144" y="923.5">7000</text><text x="144" y="948.5">6000</text><text x="144" y="979">5000</text><text x="144" y="1016.5">4000</text><text x="144" y="1039.8">3500</text><text x="144" y="1063.8">3000</text><text x="144" y="1096">2500</text><text x="144" y="1131.8">2000</text><text x="144" y="1150.8">1800</text><text x="144" y="1170.5">1600</text><text x="144" y="1196.6">1400</text><text x="144" y="1218.8">1200</text><text x="144" y="1248.5">1000</text><text x="144" y="1265.4">900</text><text x="144" y="1286.8">800</text><text x="144" y="1309">700</text><text x="144" y="1334.5">600</text>
<text x="187.5" y="904.9">10000</text><text x="187.5" y="922">9000</text><text x="187.5" y="943.2">8000</text><text x="187.5" y="963.6">7000</text><text x="187.5" y="989.7">6000</text><text x="187.5" y="1020.1">5000</text><text x="187.5" y="1057.7">4000</text><text x="187.5" y="1085.3">3400</text><text x="187.5" y="1106.8">3000</text><text x="187.5" y="1142.6">2400</text><text x="187.5" y="1172.3">2000</text><text x="187.5" y="1191.3">1800</text><text x="187.5" y="1210.6">1600</text><text x="187.5" y="1233.1">1400</text><text x="187.5" y="1259.3">1200</text><text x="187.5" y="1289.3">1000</text><text x="187.5" y="1307.2">900</text><text x="187.5" y="1326.2">800</text>
</g>
<g font-size="12" font-weight="bold" fill="#23408f" text-anchor="middle">
<text x="112.5" y="1359.3">200°C</text><text x="153.7" y="1359.3">100°C</text><text x="190.5" y="1359.3">20°C</text>
<text x="216.7" y="1359.3">8</text><text x="236.1" y="1359.3">9</text><text x="255.7" y="1359.3">10</text><text x="285.8" y="1359.3">12</text><text x="312.3" y="1359.3">14</text><text x="335.8" y="1359.3">16</text><text x="355.3" y="1359.3">18</text><text x="373.8" y="1359.3">20</text><text x="412.1" y="1359.3">25</text><text x="442.9" y="1359.3">30</text><text x="492.8" y="1359.3">40</text><text x="529.5" y="1359.3">50</text>
</g>
<text x="470" y="1382" font-size="17" font-weight="bold" fill="#23408f" textLength="112.5" lengthAdjust="spacingAndGlyphs">Q, 10³·м³/год</text>
<text x="115.4" y="864" font-size="18" font-weight="bold" fill="#23408f">P<tspan font-size="11" dy="4">v</tspan><tspan dy="-4">, Па</tspan></text>
</g>

<!-- ============ LEGEND ============ -->
<g font-size="15.5" font-weight="bold" fill="#111">
<text x="598.7" y="874" textLength="177" lengthAdjust="spacingAndGlyphs">PV - повний тиск, Па;</text>
<text x="598.7" y="894.8" textLength="330" lengthAdjust="spacingAndGlyphs">Q - продуктивність повітрям, тис. м³/год;</text>
<text x="598.7" y="915.6" textLength="321" lengthAdjust="spacingAndGlyphs">N - споживана потужність двигуна, кВт;</text>
<text x="598.7" y="936.4" textLength="277" lengthAdjust="spacingAndGlyphs">U-окружна швидкість колеса, м/с;</text>
<text x="598.7" y="957.2" textLength="381" lengthAdjust="spacingAndGlyphs">n - частота обертання робочого колеса, об/хв;</text>
<text x="598.7" y="978" textLength="261" lengthAdjust="spacingAndGlyphs">η-коефіцієнт корисної дії (ККД).</text>
</g>

<!-- ============ 3D FAN ============ -->
<g>
<path d="M668.6,1090 L737,1106 L737,1190 L668.6,1183 Z" fill="#0c0c5e"/>
<path d="M672,1098H737M672,1104H737M672,1110H737M672,1116H737M672,1122H737M672,1128H737M672,1134H737M672,1140H737M672,1146H737M672,1152H737M672,1158H737M672,1164H737M672,1170H737M672,1176H737" stroke="#2a2ac0" stroke-width="1" opacity="0.7"/>
<ellipse cx="668.6" cy="1136.5" rx="25" ry="46.5" fill="url(#mcap)" stroke="#050530" stroke-width="1.2"/>
<path d="M705.5,1196 C707,1165 718,1138 740,1115 C768,1082 808,1056 856,1050.6 C882,1048 905,1060 922,1086 C948,1108 971,1140 972.3,1178 C973,1250 950,1330 898.3,1403.4 L729.3,1403.4 L673.8,1382.4 L623.7,1303.6 L640,1228 L673.8,1185.4 Z" fill="#d3d3d3" stroke="#222" stroke-width="1.2"/>
<path d="M740,1115 C768,1082 808,1056 856,1050.6 C882,1048 905,1060 919.5,1085.2 L869.3,1096.5 L805.9,1146.1 Z" fill="#f1f1f1" stroke="#222" stroke-width="1"/>
<path d="M705.5,1196 C707,1165 718,1138 740,1115 L805.9,1146.1 L753.1,1267.8 L745,1250 L712,1215 Z" fill="url(#bandG)" stroke="#222" stroke-width="1"/>
<path d="M869.3,1096.5 L969.6,1234.4 C960,1290 940,1340 912,1390 L824.4,1360.9 L753.1,1267.8 L805.9,1146.1 Z" fill="#d0d0d0"/>
<circle cx="713.4" cy="1150.8" r="3" fill="#eee"/>
<path d="M760,1098 C800,1072 850,1062 900,1078" stroke="#333" stroke-width="0.6" fill="none" stroke-dasharray="6 3"/>
<g stroke="#222" stroke-width="1" fill="none">
<path d="M869.3,1096.5 L753.1,1267.8 M875,1100 L759,1271"/>
<path d="M869.3,1096.5 L969.6,1234.4"/>
<path d="M945.9,1208.1 L824.4,1360.9 M951,1212 L830,1365"/>
<path d="M755.7,1265.4 L827,1360.9 L830,1403"/>
<path d="M668.6,1332.3 L753.1,1267.8 M672,1337 L757,1272"/>
</g>
<g transform="rotate(15 850 1233)">
<ellipse cx="850" cy="1233" rx="57" ry="74" fill="#8e8e8e" stroke="#222" stroke-width="1.2"/>
<ellipse cx="852" cy="1234" rx="51" ry="67" fill="#c4c4c4" stroke="#333" stroke-width="0.9"/>
<ellipse cx="856" cy="1237" rx="45" ry="60" fill="url(#inletG)" stroke="#333" stroke-width="0.9"/>
<path d="M818,1205 L850,1210 M814,1222 L846,1226 M813,1240 L845,1242 M815,1258 L847,1258 M820,1275 L850,1272" stroke="#3a0000" stroke-width="1"/>
</g>
<g transform="rotate(15 754.4 1362.1)">
<ellipse cx="754.4" cy="1362.1" rx="30" ry="36" fill="none" stroke="#222" stroke-width="1.2"/>
<ellipse cx="754.4" cy="1362.1" rx="21" ry="26" fill="none" stroke="#222" stroke-width="1"/>
<path d="M740,1345 L768,1380" stroke="#222" stroke-width="1.2"/>
<g fill="#222"><circle cx="754.4" cy="1329" r="1.6"/><circle cx="780" cy="1345" r="1.6"/><circle cx="783" cy="1370" r="1.6"/><circle cx="770" cy="1392" r="1.6"/><circle cx="745" cy="1396" r="1.6"/><circle cx="727" cy="1380" r="1.6"/><circle cx="725" cy="1352" r="1.6"/><circle cx="736" cy="1333" r="1.6"/></g>
</g>
<polygon points="623.7,1303.6 668.6,1332.3 729.3,1403.4 673.8,1382.4" fill="#b8b8b8" stroke="#222" stroke-width="1"/>
<polygon points="638.2,1205.7 673.8,1185.4 638.2,1227.2" fill="#f0f0f0" stroke="#222" stroke-width="1"/>
<polygon points="592,1286.9 673.8,1185.4 749.1,1228.4 668.6,1332.3" fill="#e0e0e0" stroke="#222" stroke-width="1.1"/>
<polygon points="606.5,1283.3 677.8,1196.2 737.2,1230.8 667.2,1317.9" fill="#6e3b3b" stroke="#222" stroke-width="0.9"/>
<polygon points="700,1212 737.2,1230.8 712,1262 697,1288 705,1250" fill="#a51c1c"/>
<g fill="#222"><circle cx="604" cy="1274" r="1.3"/><circle cx="620" cy="1254" r="1.3"/><circle cx="636" cy="1234" r="1.3"/><circle cx="652" cy="1214" r="1.3"/><circle cx="668" cy="1194" r="1.3"/><circle cx="690" cy="1197" r="1.3"/><circle cx="710" cy="1208" r="1.3"/><circle cx="730" cy="1220" r="1.3"/><circle cx="740" cy="1238" r="1.3"/><circle cx="725" cy="1260" r="1.3"/><circle cx="708" cy="1282" r="1.3"/><circle cx="690" cy="1305" r="1.3"/><circle cx="672" cy="1326" r="1.3"/><circle cx="652" cy="1318" r="1.3"/><circle cx="630" cy="1306" r="1.3"/><circle cx="610" cy="1294" r="1.3"/></g>
<text transform="translate(842,1153) rotate(-60)" text-anchor="middle" font-size="22" font-weight="bold" font-style="italic" fill="#fff">ukrvent.ua</text>
</g>

<!-- ============ FOOTER ============ -->
<g font-size="15.5" fill="#111">
<text x="65" y="1461" textLength="172" lengthAdjust="spacingAndGlyphs">УКРВЕНТСИСТЕМИ</text>
<text x="65" y="1482" textLength="129.4" lengthAdjust="spacingAndGlyphs">сайт:ukrvent.ua</text>
<text x="65" y="1503" textLength="214.7" lengthAdjust="spacingAndGlyphs">E-mail: zavod@ukrvent.ua</text>
<text x="1046" y="1461" text-anchor="end" textLength="124.8" lengthAdjust="spacingAndGlyphs">Відділ продажу</text>
<text x="1046" y="1482" text-anchor="end" textLength="262.6" lengthAdjust="spacingAndGlyphs">+38 (097) 699-14-81 - Київстар;</text>
<text x="1046" y="1503" text-anchor="end" textLength="308.6" lengthAdjust="spacingAndGlyphs">+38 (099) 199-69-06 - Vodofon (Viber)</text>
</g>
</svg>
</body></html>
